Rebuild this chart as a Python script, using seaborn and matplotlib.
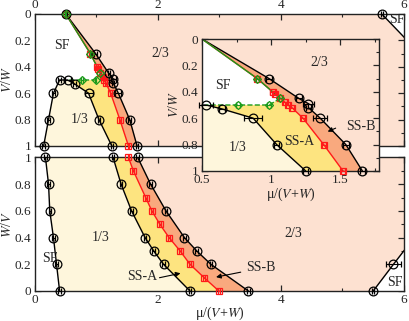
import numpy as np
import matplotlib
matplotlib.use("Agg")
import matplotlib.pyplot as plt
import seaborn as sns

# ==========================================
# DATA  (x = mu/(V+W))
# ==========================================

# upper panel, y = V/W
vw_lobe_mu = [0.14, 0.22, 0.30, 0.40, 0.53, 0.645, 0.87, 1.04, 1.25]
vw_lobe_y = [1.0, 0.8, 0.6, 0.5, 0.5, 0.53, 0.6, 0.8, 1.0]
vw_lobe_err = [0.02, 0.02, 0.02, 0.02, 0.05, 0.02, 0.065, 0.02, 0.02]

vw_upper_mu = [0.5, 0.985, 1.20, 1.27, 1.27, 1.355, 1.54, 1.66]
vw_upper_y = [0.0, 0.3, 0.45, 0.49, 0.52, 0.6, 0.8, 1.0]
vw_upper_err = [0.02, 0.02, 0.02, 0.04, 0.02, 0.05, 0.02, 0.02]

vw_red_mu = [0.5, 0.9, 1.01, 1.03, 1.065, 1.10, 1.12, 1.15, 1.23, 1.38, 1.52]
vw_red_y = [0.0, 0.3, 0.4, 0.42, 0.45, 0.48, 0.5, 0.52, 0.6, 0.8, 1.0]

vw_green_mu = [0.5, 0.9, 1.065]
vw_green_y = [0.0, 0.3, 0.45]
vw_dash_mu = [1.065, 0.985, 0.76, 0.53]
vw_dash_y = [0.45, 0.5, 0.5, 0.5]

vw_sf2_mu = [5.64, 6.3]
vw_sf2_y = [0.0, 0.32]

# lower panel, y = W/V
wv_sf_mu = [0.17, 0.22, 0.24, 0.30, 0.35, 0.40]
wv_sf_y = [1.0, 0.8, 0.6, 0.4, 0.2, 0.0]

wv_lower_mu = [1.27, 1.40, 1.57, 1.79, 1.93, 2.09, 2.52]
wv_lower_y = [1.0, 0.8, 0.6, 0.4, 0.3, 0.2, 0.0]

wv_red_mu = [1.52, 1.60, 1.80, 1.90, 2.03, 2.18, 2.36, 2.52, 2.75, 2.99]
wv_red_y = [1.0, 0.9, 0.7, 0.6, 0.5, 0.4, 0.3, 0.2, 0.1, 0.0]

wv_upper_mu = [1.67, 1.88, 2.13, 2.43, 2.63, 2.86, 3.47]
wv_upper_y = [1.0, 0.8, 0.6, 0.4, 0.3, 0.2, 0.0]

wv_sf2_mu = [5.50, 5.83, 6.3]
wv_sf2_y = [0.0, 0.2, 0.48]
wv_sf2_err = [0.02, 0.12, 0.0]

C_23 = "#fde1d1"
C_13 = "#fef6dc"
C_SSA = "#fde480"
C_SSB = "#f9a97e"
C_RED = "#ff1a1a"
C_GREEN = "#1a9a1a"

# ==========================================
# STYLE
# ==========================================

sns.set_style("ticks")
plt.rcParams["font.family"] = ["Liberation Serif", "DejaVu Serif"]
plt.rcParams["mathtext.fontset"] = "stix"
plt.rcParams["font.size"] = 10
plt.rcParams["axes.linewidth"] = 1.0
plt.rcParams["axes.edgecolor"] = "#222222"


def line(ax, x, y, color="black", ls="-"):
    sns.lineplot(x=x, y=y, sort=False, estimator=None, color=color,
                 lw=1.0, linestyle=ls, ax=ax, zorder=2)


def pts(ax, x, y, xerr, fmt, color, ms, lo=-10.0):
    x = np.asarray(x)
    y = np.asarray(y)
    xerr = np.broadcast_to(np.asarray(xerr, dtype=float), x.shape)
    keep = x > lo
    ax.errorbar(x[keep], y[keep], xerr=xerr[keep], fmt=fmt, mfc="none",
                mec=color, ecolor=color, ms=ms, mew=0.9, elinewidth=0.8,
                capsize=2, capthick=0.8, zorder=3, clip_on=False)


def draw_vw(ax, lo=-10.0):
    ax.set_facecolor(C_23)
    ax.fill_betweenx(vw_upper_y, -1, vw_upper_mu, color=C_SSB, lw=0, zorder=1)
    ax.fill_betweenx(vw_red_y, -1, vw_red_mu, color=C_SSA, lw=0, zorder=1.1)
    sf_x = vw_green_mu + vw_dash_mu[1:] + vw_lobe_mu[4::-1] + [-1, -1]
    sf_y = vw_green_y + vw_dash_y[1:] + vw_lobe_y[4::-1] + [1.0, 0.0]
    ax.fill(sf_x, sf_y, color="white", lw=0, zorder=1.2)
    ax.fill(vw_lobe_mu, vw_lobe_y, color=C_13, lw=0, zorder=1.3)
    ax.fill_betweenx(vw_sf2_y, vw_sf2_mu, 7, color="white", lw=0, zorder=1.2)

    line(ax, vw_upper_mu, vw_upper_y)
    line(ax, vw_lobe_mu, vw_lobe_y)
    line(ax, vw_sf2_mu, vw_sf2_y)
    line(ax, vw_red_mu, vw_red_y, C_RED)
    line(ax, vw_green_mu, vw_green_y, C_GREEN)
    line(ax, vw_dash_mu, vw_dash_y, C_GREEN, "--")

    pts(ax, vw_red_mu, vw_red_y, 0.015, "s", C_RED, 5, lo)
    pts(ax, vw_upper_mu, vw_upper_y, vw_upper_err, "o", "black", 6.3, lo)
    pts(ax, vw_lobe_mu, vw_lobe_y, vw_lobe_err, "o", "black", 6.3, lo)
    pts(ax, vw_green_mu, vw_green_y, 0.01, "D", C_GREEN, 4.5, lo)
    pts(ax, vw_dash_mu[1:-1], vw_dash_y[1:-1], 0.015, "D", C_GREEN, 4.5, lo)
    if lo < 5:
        pts(ax, vw_sf2_mu[:1], vw_sf2_y[:1], 0.02, "o", "black", 6.3, lo)


def ticks(ax):
    ax.tick_params(which="both", direction="in", top=True, right=True,
                   pad=2.5, labelsize=9.5)
    ax.tick_params(which="major", length=4.5, width=0.9)
    ax.tick_params(which="minor", length=2.5, width=0.8)
    ax.set_xlabel("")
    ax.set_ylabel("")


fig = plt.figure(figsize=(4.09, 3.21), dpi=100)

# ==========================================
# UPPER PANEL
# ==========================================

ax1 = fig.add_axes([0.0856, 0.5452, 0.902, 0.4112])
draw_vw(ax1)
ticks(ax1)
ax1.set_xlim(0, 6)
ax1.set_ylim(1, 0)
ax1.set_xticks([0, 2, 4, 6])
ax1.set_xticks([1, 3, 5], minor=True)
ax1.set_yticks([0, 0.2, 0.4, 0.6, 0.8, 1.0])
ax1.set_yticklabels(["0", "0.2", "0.4", "0.6", "0.8", "1"])
ax1.set_yticks(np.arange(0.1, 1.0, 0.2), minor=True)
ax1.tick_params(labeltop=True, labelbottom=False)
ax1.set_ylabel(r"$V$/$W$", labelpad=1)
ax1.text(0.44, 0.235, "SF", ha="center", va="center", zorder=4)
ax1.text(2.03, 0.30, "2/3", ha="center", va="center", zorder=4)
ax1.text(0.73, 0.80, "1/3", ha="center", va="center", zorder=4)
ax1.text(5.89, 0.045, "SF", ha="center", va="center", zorder=4, clip_on=True)

# ==========================================
# LOWER PANEL
# ==========================================

ax2 = fig.add_axes([0.0856, 0.0935, 0.902, 0.4159])
ax2.set_facecolor(C_23)
ax2.fill_betweenx(wv_upper_y, -1, wv_upper_mu, color=C_SSB, lw=0, zorder=1)
ax2.fill_betweenx(wv_red_y, -1, wv_red_mu, color=C_SSA, lw=0, zorder=1.1)
ax2.fill_betweenx(wv_lower_y, -1, wv_lower_mu, color=C_13, lw=0, zorder=1.2)
ax2.fill_betweenx(wv_sf_y, -1, wv_sf_mu, color="white", lw=0, zorder=1.3)
ax2.fill_betweenx(wv_sf2_y, wv_sf2_mu, 7, color="white", lw=0, zorder=1.3)

line(ax2, wv_upper_mu, wv_upper_y)
line(ax2, wv_lower_mu, wv_lower_y)
line(ax2, wv_sf_mu, wv_sf_y)
line(ax2, wv_sf2_mu, wv_sf2_y)
line(ax2, wv_red_mu, wv_red_y, C_RED)

pts(ax2, wv_red_mu, wv_red_y, 0.015, "s", C_RED, 5)
pts(ax2, wv_upper_mu, wv_upper_y, 0.02, "o", "black", 6.3)
pts(ax2, wv_lower_mu, wv_lower_y, 0.02, "o", "black", 6.3)
pts(ax2, wv_sf_mu, wv_sf_y, 0.02, "o", "black", 6.3)
pts(ax2, wv_sf2_mu[:2], wv_sf2_y[:2], wv_sf2_err[:2], "o", "black", 6.3)

ticks(ax2)
ax2.set_xlim(0, 6)
ax2.set_ylim(0, 1)
ax2.set_xticks([0, 2, 4, 6])
ax2.set_xticks([1, 3, 5], minor=True)
ax2.set_yticks([0, 0.2, 0.4, 0.6, 0.8, 1.0])
ax2.set_yticklabels(["0", "0.2", "0.4", "0.6", "0.8", "1"])
ax2.set_yticks(np.arange(0.1, 1.0, 0.2), minor=True)
ax2.set_ylabel(r"$W$/$V$", labelpad=1)
ax2.set_xlabel(r"μ/($V$+$W$)", va="center")
ax2.xaxis.set_label_coords(0.5, -0.165)
ax2.text(1.06, 0.40, "1/3", ha="center", va="center", zorder=4)
ax2.text(0.24, 0.245, "SF", ha="center", va="center", zorder=4)
ax2.text(4.2, 0.43, "2/3", ha="center", va="center", zorder=4)
ax2.text(5.85, 0.067, "SF", ha="center", va="center", zorder=4)
arrow = dict(arrowstyle="-|>", color="black", lw=0.8, mutation_scale=7)
ax2.annotate("", xy=(2.41, 0.137), xytext=(1.98, 0.095), arrowprops=arrow, zorder=4)
ax2.text(1.745, 0.107, "SS-A", ha="center", va="center", zorder=4)
ax2.annotate("", xy=(2.90, 0.10), xytext=(3.39, 0.145), arrowprops=arrow, zorder=4)
ax2.text(3.68, 0.177, "SS-B", ha="center", va="center", zorder=4)

# ==========================================
# INSET
# ==========================================

ax3 = fig.add_axes([0.4939, 0.4673, 0.4328, 0.4112])
draw_vw(ax3, lo=0.5)
ticks(ax3)
ax3.set_xlim(0.5, 1.78)
ax3.set_ylim(1, 0)
ax3.set_xticks([0.5, 1.0, 1.5])
ax3.set_xticklabels(["0.5", "1", "1.5"])
ax3.set_xticks([0.75, 1.25, 1.75], minor=True)
ax3.set_yticks([0, 0.2, 0.4, 0.6, 0.8, 1.0])
ax3.set_yticklabels(["0", "0.2", "0.4", "0.6", "0.8", "1"])
ax3.set_yticks(np.arange(0.1, 1.0, 0.2), minor=True)
ax3.set_ylabel(r"$V$/$W$", labelpad=1)
ax3.set_xlabel(r"μ/($V$+$W$)", va="center")
ax3.xaxis.set_label_coords(0.5, -0.18)
ax3.text(0.65, 0.35, "SF", ha="center", va="center", zorder=4)
ax3.text(1.35, 0.18, "2/3", ha="center", va="center", zorder=4)
ax3.text(0.76, 0.82, "1/3", ha="center", va="center", zorder=4)
ax3.text(1.20, 0.78, "SS-A", ha="center", va="center", zorder=4)
ax3.text(1.65, 0.66, "SS-B", ha="center", va="center", zorder=4)
ax3.annotate("", xy=(1.39, 0.71), xytext=(1.485, 0.667), arrowprops=arrow, zorder=4)

fig.savefig("out.png", dpi=100)
plt.close()
